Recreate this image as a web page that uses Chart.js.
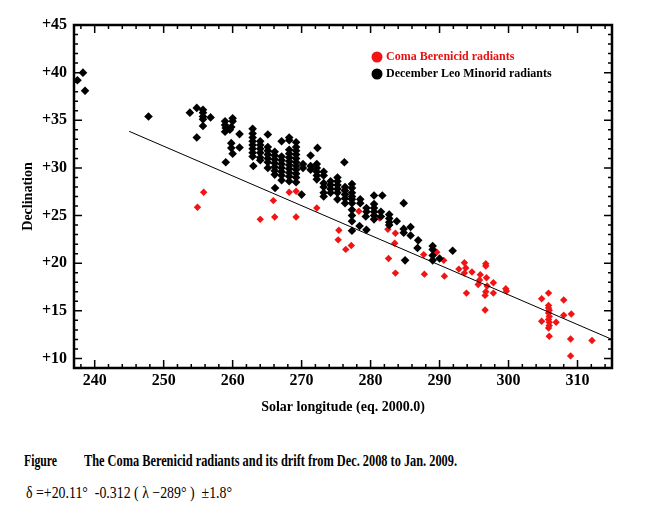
<!DOCTYPE html>
<html>
<head>
<meta charset="utf-8">
<script src="https://cdn.jsdelivr.net/npm/chart.js@4.4.0/dist/chart.umd.min.js"></script>
<style>
  html, body { margin: 0; padding: 0; background: #fff; }
  #wrap { position: relative; width: 654px; height: 522px; overflow: hidden; }
  #chart { position: absolute; left: 0; top: 0; }
  .cap { position: absolute; font-family: 'Liberation Serif', serif; color: #000; white-space: pre; transform-origin: 0 50%; line-height: 20px; }
  .b { font-weight: bold; }
</style>
</head>
<body>
<div id="wrap">
  <canvas id="chart" width="654" height="440"></canvas>
  <span class="cap b" style="left:24px;top:451px;font-size:16px" data-w="33">Figure</span>
  <span class="cap b" style="left:84px;top:451px;font-size:16px" data-w="373">The Coma Berenicid radiants and its drift from Dec. 2008 to Jan. 2009.</span>
  <span class="cap" style="left:26px;top:483px;font-size:16px" data-w="206">δ =+20.11°  -0.312 ( λ −289° )  ±1.8°</span>
</div>
<script>
// axis ranges and tick labels
const xRange = [237, 315];
const yRange = [9, 45];
const xTicks = [240, 250, 260, 270, 280, 290, 300, 310];
const yTicks = [10, 15, 20, 25, 30, 35, 40, 45];

// fitted drift line, end points (lon, dec)
const driftLine = [[245, 33.84], [315, 12.0]];

// Coma Berenicid radiants (solar longitude, declination)
const comaRadiants = [
  [255.8, 27.44], [254.9, 25.87], [264.0, 24.6], [265.9, 26.57], [266.1, 24.85],
  [268.2, 27.44], [269.2, 27.55], [269.2, 24.85], [272.2, 25.8], [275.4, 23.45],
  [275.3, 22.45], [276.4, 21.45], [277.2, 21.85], [276.2, 27.7], [278.3, 25.45],
  [281.3, 24.75], [282.5, 23.55], [283.6, 23.15], [283.5, 22.1], [282.6, 20.5],
  [283.6, 18.96], [287.7, 20.9], [287.8, 18.85], [289.6, 21.16], [290.6, 20.3],
  [290.7, 18.64], [292.8, 19.38], [293.6, 20.04], [293.8, 19.5], [293.6, 18.96],
  [294.7, 19.07], [293.9, 16.86], [295.9, 18.8], [295.8, 18.23], [295.6, 17.77],
  [296.7, 19.94], [296.7, 19.7], [296.8, 18.48], [296.9, 17.6], [296.7, 17.0],
  [296.6, 16.62], [296.6, 15.08], [297.8, 17.95], [297.8, 16.86], [299.6, 17.32],
  [299.7, 17.07], [304.8, 16.27], [305.8, 16.86], [305.8, 15.57], [305.8, 15.3],
  [305.9, 15.05], [305.8, 14.76], [305.9, 14.41], [305.8, 14.1], [305.9, 13.8],
  [305.9, 13.45], [305.8, 13.2], [304.8, 13.9], [306.9, 13.8], [305.9, 12.33],
  [308.0, 16.13], [308.0, 14.53], [309.1, 14.67], [309.0, 12.05], [309.0, 10.27],
  [312.1, 11.88]
];

// December Leo Minorid radiants (solar longitude, declination)
const leoMinoridRadiants = [
  [237.5, 39.2], [238.3, 40.0], [238.6, 38.1], [247.8, 35.4],
  [253.8, 35.8], [254.8, 36.3], [254.8, 33.2],
  [255.7, 36.1], [255.7, 35.8], [255.7, 35.4], [255.7, 35.1], [255.7, 34.4], [256.8, 35.3],
  [258.9, 34.9], [258.9, 34.5], [259.0, 34.2], [258.9, 33.8], [259.0, 30.6], [259.6, 34.0],
  [260.0, 35.2], [260.0, 34.9], [259.8, 34.3], [259.8, 32.6], [259.8, 32.1], [260.0, 31.5],
  [261.0, 33.55], [261.0, 32.15],
  [262.9, 34.1], [262.9, 33.6], [262.9, 33.2], [262.9, 32.8], [262.9, 32.4], [262.9, 32.0],
  [262.9, 31.6], [262.9, 31.2], [263.0, 30.2],
  [264.0, 32.8], [264.0, 32.4], [264.0, 32.0], [264.0, 31.6], [264.0, 31.1], [264.0, 30.8],
  [265.1, 33.5], [265.1, 32.2], [265.1, 31.8], [265.1, 31.4], [265.1, 31.0], [265.1, 30.6], [265.1, 30.0],
  [266.1, 31.7], [266.1, 31.3], [266.1, 30.9], [266.1, 30.5], [266.1, 30.1], [266.1, 29.7],
  [266.1, 29.3], [266.15, 27.9],
  [267.1, 32.8], [267.1, 31.2], [267.1, 30.8], [267.1, 30.4], [267.1, 30.0], [267.1, 29.6],
  [267.1, 29.2], [267.1, 28.7],
  [268.2, 33.2], [268.2, 32.9], [268.2, 31.9], [268.2, 31.5], [268.2, 31.1], [268.2, 30.7],
  [268.2, 30.3], [268.2, 29.9], [268.2, 29.5], [268.2, 29.1], [268.2, 28.6],
  [269.2, 32.7], [269.2, 32.2], [269.2, 31.8], [269.2, 31.4], [269.2, 31.0], [269.2, 30.6],
  [269.2, 30.2], [269.2, 29.8], [269.2, 29.4], [269.2, 29.0], [269.2, 28.5],
  [270.2, 30.4], [270.2, 30.0], [270.0, 27.2],
  [271.3, 31.3], [271.3, 30.2], [271.3, 29.8],
  [272.3, 32.1], [272.2, 30.4], [272.2, 30.0], [272.2, 29.6], [272.2, 29.2], [272.2, 28.8],
  [273.2, 29.6], [273.2, 29.2], [273.2, 28.4], [273.2, 28.0], [273.2, 27.4], [273.2, 27.0],
  [274.2, 28.6], [274.2, 28.2], [274.2, 27.8], [274.2, 27.4],
  [275.2, 29.0], [275.2, 28.6], [275.2, 28.2], [275.2, 27.8], [275.2, 27.4], [275.2, 26.7],
  [276.2, 30.6], [276.3, 28.0], [276.3, 27.6], [276.3, 27.2], [276.3, 26.8], [276.3, 26.3],
  [277.3, 28.3], [277.3, 27.9], [277.3, 27.4], [277.3, 27.0], [277.3, 26.7], [277.3, 26.3],
  [277.3, 25.6], [277.3, 25.0], [277.3, 24.4], [277.3, 23.4],
  [278.5, 26.7], [278.5, 26.3], [278.4, 23.9],
  [279.4, 25.8], [279.4, 25.4], [279.3, 24.9], [279.4, 23.5],
  [280.5, 27.1], [280.5, 26.2], [280.5, 25.8], [280.5, 25.4], [280.5, 25.0], [280.5, 24.6],
  [281.7, 27.1], [281.5, 25.4], [281.5, 24.9],
  [282.7, 25.1], [282.7, 24.7], [282.7, 24.3], [282.7, 24.0], [283.8, 24.4],
  [284.8, 26.3], [284.8, 23.6], [284.8, 23.2], [285.0, 20.3],
  [285.8, 23.8], [285.8, 22.9], [286.9, 22.4], [286.8, 21.6],
  [289.0, 21.8], [289.0, 21.45], [289.0, 20.8], [289.0, 20.3], [290.0, 20.5], [291.9, 21.3]
];

// legend entries, top to bottom
const legendOrder = ['Coma Berenicid radiants', 'December Leo Minorid radiants'];

const toXY = arr => arr.map(p => ({ x: p[0], y: p[1] }));
const serif = '"Liberation Serif", "Times New Roman", serif';

// box frame with inward major/minor ticks on all four sides
const framePlugin = {
  id: 'frame',
  afterDatasetsDraw(chart) {
    const { ctx, chartArea: a, scales: { x, y } } = chart;
    ctx.save();
    ctx.strokeStyle = '#000';
    ctx.lineWidth = 1.5;
    ctx.beginPath();
    for (let v = 238; v < xRange[1]; v += 2) {
      const px = x.getPixelForValue(v);
      const len = v % 10 === 0 ? 8 : 4;
      ctx.moveTo(px, a.bottom); ctx.lineTo(px, a.bottom - len);
      ctx.moveTo(px, a.top); ctx.lineTo(px, a.top + len);
    }
    for (let v = 10; v < yRange[1]; v++) {
      const py = y.getPixelForValue(v);
      const len = v % 5 === 0 ? 8 : 4;
      ctx.moveTo(a.left, py); ctx.lineTo(a.left + len, py);
      ctx.moveTo(a.right, py); ctx.lineTo(a.right - len, py);
    }
    ctx.stroke();
    ctx.lineWidth = 2.5;
    ctx.strokeRect(a.left, a.top, a.right - a.left, a.bottom - a.top);
    ctx.restore();
  }
};

// legend drawn inside the plot area
const legendPlugin = {
  id: 'innerLegend',
  afterDraw(chart) {
    const ctx = chart.ctx;
    const items = legendOrder.map(l => chart.data.datasets.find(d => d.label === l));
    ctx.save();
    ctx.font = 'bold 12px ' + serif;
    ctx.textBaseline = 'middle';
    items.forEach((ds, i) => {
      const cy = 57 + i * 17;
      ctx.fillStyle = ds.backgroundColor;
      ctx.beginPath();
      ctx.arc(377, cy, 5.5, 0, Math.PI * 2);
      ctx.fill();
      ctx.fillStyle = ds.legendText;
      ctx.fillText(ds.label, 386, cy);
    });
    ctx.restore();
  }
};

new Chart(document.getElementById('chart'), {
  type: 'scatter',
  data: {
    datasets: [
      {
        label: 'drift',
        data: toXY(driftLine),
        showLine: true,
        borderColor: '#000',
        borderWidth: 1,
        pointRadius: 0
      },
      {
        label: 'December Leo Minorid radiants',
        data: toXY(leoMinoridRadiants),
        backgroundColor: '#000',
        borderColor: '#000',
        legendText: '#000',
        pointStyle: 'rectRot',
        pointRadius: 4.3,
        borderWidth: 0
      },
      {
        label: 'Coma Berenicid radiants',
        data: toXY(comaRadiants),
        backgroundColor: '#f21414',
        borderColor: '#f21414',
        legendText: '#e81010',
        pointStyle: 'rectRot',
        pointRadius: 3.7,
        borderWidth: 0
      }
    ]
  },
  options: {
    responsive: false,
    animation: false,
    layout: { padding: { top: 25, right: 42, left: 0, bottom: 0 } },
    plugins: { legend: { display: false }, tooltip: { enabled: false } },
    scales: {
      x: {
        type: 'linear',
        min: xRange[0],
        max: xRange[1],
        afterBuildTicks: s => { s.ticks = xTicks.map(v => ({ value: v })); },
        afterFit: s => { s.height = 72; },
        grid: { display: false, drawTicks: false },
        border: { display: false },
        ticks: { color: '#000', padding: 3, font: { family: serif, size: 16, weight: 'bold' } },
        title: {
          display: true,
          text: 'Solar longitude (eq. 2000.0)',
          color: '#000',
          font: { family: serif, size: 14, weight: 'bold' },
          padding: { top: 0, bottom: 24 }
        }
      },
      y: {
        type: 'linear',
        min: yRange[0],
        max: yRange[1],
        afterBuildTicks: s => { s.ticks = yTicks.map(v => ({ value: v })); },
        afterFit: s => { s.width = 74; },
        grid: { display: false, drawTicks: false },
        border: { display: false },
        ticks: {
          color: '#000',
          padding: 7,
          font: { family: serif, size: 16, weight: 'bold' },
          callback: v => '+' + v
        },
        title: {
          display: true,
          text: 'Declination',
          color: '#000',
          font: { family: serif, size: 14, weight: 'bold' },
          padding: { top: 20, bottom: 0 }
        }
      }
    }
  },
  plugins: [framePlugin, legendPlugin]
});

// squeeze caption lines to the narrow face used in the figure
document.querySelectorAll('.cap').forEach(el => {
  const w = el.getBoundingClientRect().width;
  el.style.transform = 'scaleX(' + (Number(el.dataset.w) / w) + ')';
});
</script>
</body>
</html>
